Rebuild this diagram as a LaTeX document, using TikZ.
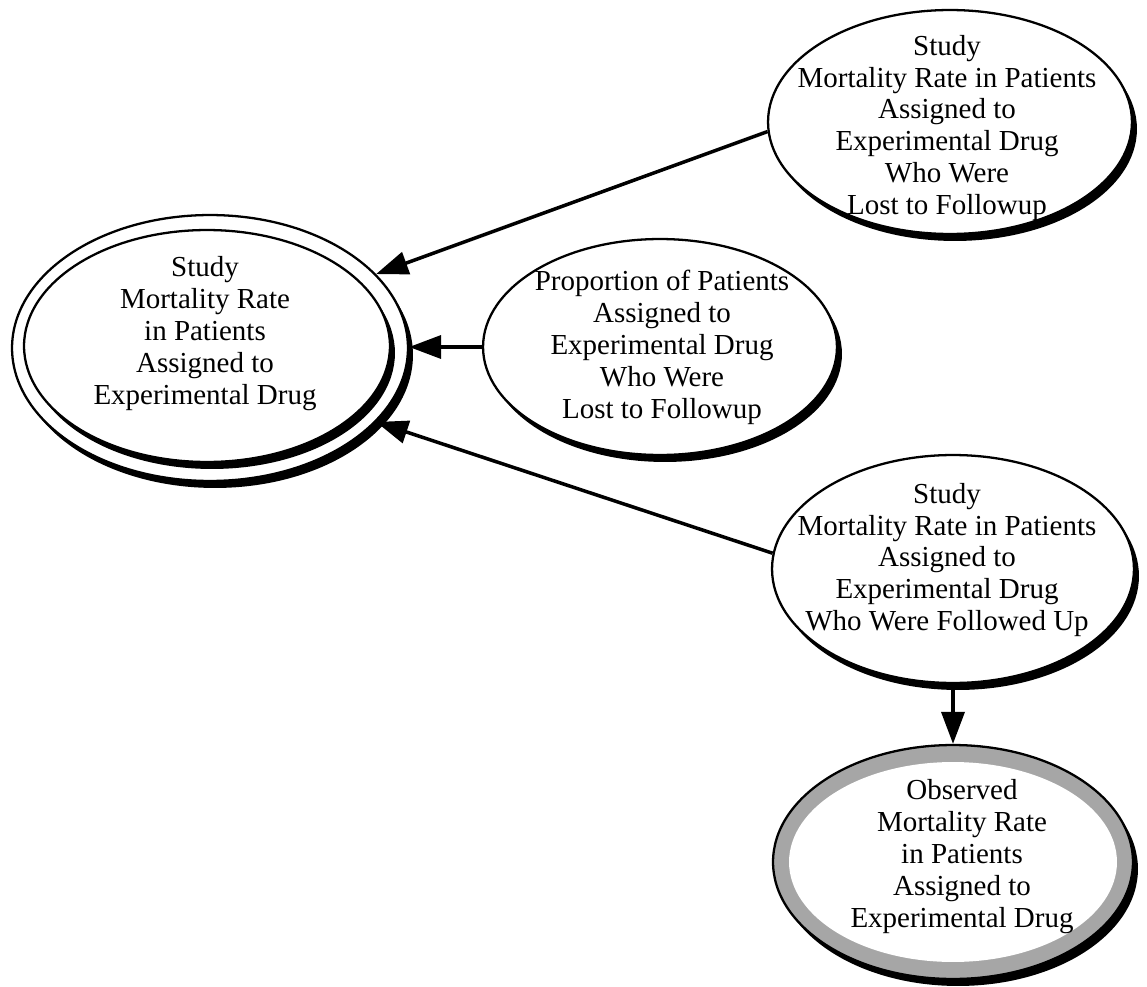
\documentclass[tikz,border=0pt]{standalone}
\usepackage{fontspec}
\setmainfont{Liberation Serif}
\usetikzlibrary{shapes.geometric, arrows.meta, shadows}

\begin{document}
\begin{tikzpicture}[x=0.02cm, y=-0.02cm,
    bubble/.style={ellipse, draw, fill=white, line width=1.3pt, inner sep=0pt,
        drop shadow={shadow xshift=0.1cm, shadow yshift=-0.14cm, fill=black, opacity=1}},
    words/.style={align=center, inner sep=0pt, font=\fontsize{16.5}{18.2}\selectfont},
    link/.style={-{Triangle[length=0.64cm, width=0.46cm]}, line width=2pt}]
\useasboundingbox (0,0) rectangle (1147,987);

% Study mortality rate (double ring)
\node[bubble, minimum width=7.92cm, minimum height=5.32cm] (studyout) at (210,348) {};
\node[bubble, minimum width=7.32cm, minimum height=4.64cm] (study) at (207,346) {};
\node[words] (studytxt) at (205,334) {Study\\Mortality Rate\\in Patients\\Assigned to\\Experimental Drug};

% Lost to followup
\node[bubble, minimum width=7.28cm, minimum height=4.48cm] (lost) at (950,122) {};
\node[words] (losttxt) at (947,128) {Study\\Mortality Rate in Patients\\Assigned to\\Experimental Drug\\Who Were\\Lost to Followup};

% Proportion lost
\node[bubble, minimum width=7.08cm, minimum height=4.32cm] (prop) at (660,347) {};
\node[words] (proptxt) at (662,347) {Proportion of Patients\\Assigned to\\Experimental Drug\\Who Were\\Lost to Followup};

% Followed up
\node[bubble, minimum width=7.24cm, minimum height=4.56cm] (follow) at (953,569) {};
\node[words] (followtxt) at (947,560) {Study\\Mortality Rate in Patients\\Assigned to\\Experimental Drug\\Who Were Followed Up};

% Observed rate (grey ring)
\node[bubble, fill=black!35, minimum width=7.2cm, minimum height=4.68cm] (obs) at (953,862) {};
\node[ellipse, fill=white, inner sep=0pt, minimum width=6.56cm, minimum height=4.0cm] (obsin) at (953,862) {};
\node[words] (obstxt) at (962,857) {Observed\\Mortality Rate\\in Patients\\Assigned to\\Experimental Drug};

% Arrows
\draw[link] (lost.183) -- (studyout.24);
\draw[link] (prop.west) -- (prop.west -| studyout.east);
\draw[link] (follow.175) -- (studyout.-24);
\draw[link] (follow.south) -- (follow.south |- obs.north);
\end{tikzpicture}
\end{document}
